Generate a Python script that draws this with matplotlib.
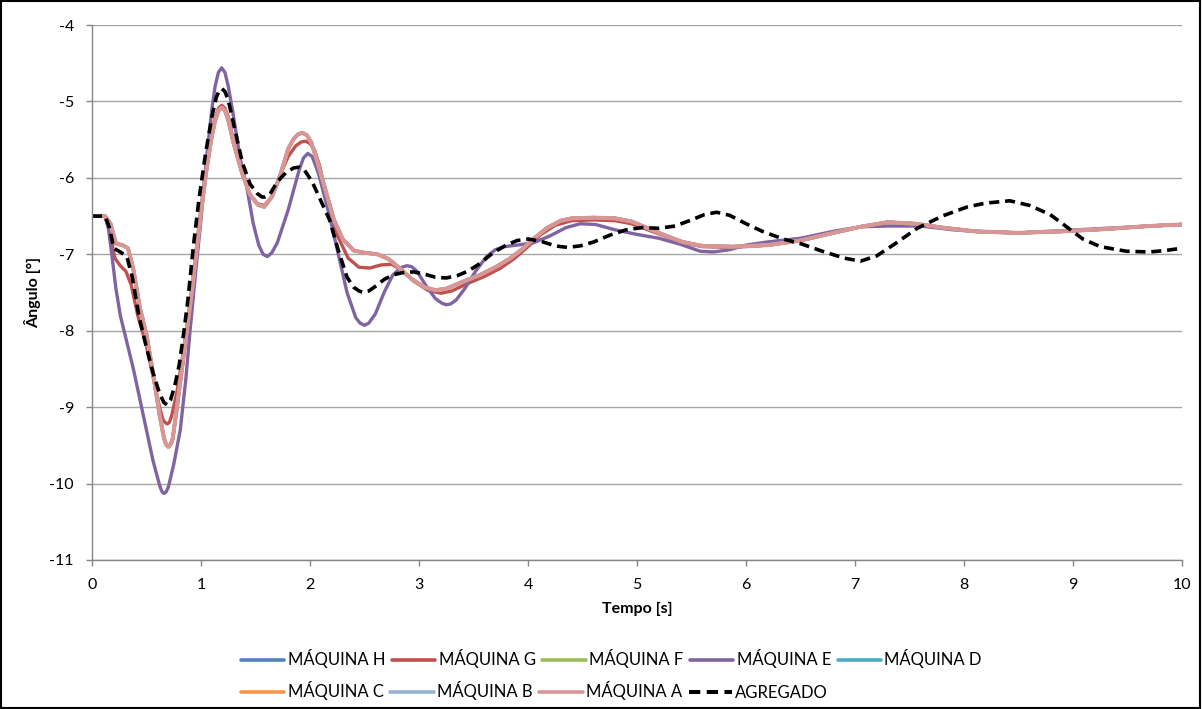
import matplotlib
matplotlib.use("Agg")
import matplotlib.pyplot as plt
from matplotlib.patches import Rectangle

plt.rcParams['font.family'] = ['Lato', 'DejaVu Sans']
plt.rcParams['axes.unicode_minus'] = False

# machine A (the other machines H, F, D, C, B follow the same trajectory)
t_a = [0.0, 0.12, 0.17, 0.22, 0.28, 0.33, 0.38, 0.44, 0.5, 0.56, 0.62, 0.66, 0.68, 0.70, 0.72,
       0.74, 0.78, 0.83, 0.87, 0.92, 0.96, 1.0, 1.05, 1.1, 1.13, 1.16, 1.19, 1.22, 1.25, 1.3,
       1.38, 1.45, 1.52, 1.58, 1.65, 1.72, 1.8, 1.85, 1.89, 1.93, 1.97, 2.01, 2.06, 2.14, 2.22,
       2.3, 2.4, 2.5, 2.62, 2.72, 2.82, 2.93, 3.05, 3.15, 3.25, 3.4, 3.56, 3.7, 3.83, 3.95,
       4.05, 4.17, 4.3, 4.4, 4.6, 4.8, 4.95, 5.1, 5.27, 5.42, 5.6, 5.88, 6.2, 6.5, 6.8,
       7.05, 7.3, 7.55, 7.8, 8.1, 8.5, 8.9, 9.3, 9.7, 10.0]
ang_a = [-6.5, -6.5, -6.6, -6.86, -6.88, -6.92, -7.2, -7.7, -8.05, -8.55, -9.1, -9.4, -9.49, -9.52, -9.49,
         -9.42, -9.0, -8.45, -8.0, -7.45, -6.95, -6.45, -5.9, -5.45, -5.25, -5.12, -5.08, -5.12, -5.24, -5.55,
         -5.95, -6.22, -6.35, -6.38, -6.25, -6.0, -5.62, -5.49, -5.43, -5.41, -5.44, -5.53, -5.75, -6.15, -6.55,
         -6.8, -6.95, -6.98, -7.0, -7.06, -7.18, -7.32, -7.43, -7.47, -7.45, -7.36, -7.27, -7.17, -7.06, -6.93,
         -6.8, -6.66, -6.56, -6.53, -6.52, -6.53, -6.57, -6.66, -6.76, -6.84, -6.89, -6.9, -6.88, -6.82, -6.72,
         -6.64, -6.58, -6.6, -6.65, -6.7, -6.72, -6.7, -6.67, -6.63, -6.61]

# machine G
t_g = [0.0, 0.12, 0.17, 0.21, 0.26, 0.31, 0.36, 0.42, 0.5, 0.56, 0.62, 0.65, 0.67, 0.69, 0.71,
       0.73, 0.78, 0.83, 0.87, 0.92, 0.96, 1.0, 1.05, 1.1, 1.13, 1.16, 1.19, 1.22, 1.25, 1.3,
       1.38, 1.45, 1.52, 1.58, 1.65, 1.72, 1.8, 1.87, 1.92, 1.96, 2.0, 2.04, 2.09, 2.16, 2.25,
       2.35, 2.45, 2.55, 2.65, 2.75, 2.85, 2.95, 3.08, 3.2, 3.3, 3.45, 3.6, 3.75, 3.88, 4.0,
       4.12, 4.25, 4.4, 4.6, 4.8, 4.95, 5.1, 5.27, 5.42, 5.6, 5.88, 6.2, 6.5, 6.8, 7.05,
       7.3, 7.55, 7.8, 8.1, 8.5, 8.9, 9.3, 9.7, 10.0]
ang_g = [-6.5, -6.5, -6.75, -7.05, -7.15, -7.22, -7.4, -7.8, -8.2, -8.6, -9.0, -9.16, -9.2, -9.22, -9.2,
         -9.12, -8.8, -8.35, -7.95, -7.4, -6.9, -6.4, -5.85, -5.4, -5.21, -5.09, -5.05, -5.09, -5.2, -5.52,
         -5.95, -6.22, -6.34, -6.36, -6.25, -5.98, -5.72, -5.58, -5.53, -5.52, -5.55, -5.63, -5.85, -6.3, -6.75,
         -7.05, -7.17, -7.18, -7.14, -7.13, -7.22, -7.35, -7.47, -7.51, -7.48, -7.38, -7.29, -7.18, -7.05, -6.9,
         -6.74, -6.62, -6.56, -6.55, -6.56, -6.6, -6.68, -6.77, -6.85, -6.9, -6.91, -6.88, -6.82, -6.72, -6.64,
         -6.58, -6.6, -6.65, -6.7, -6.72, -6.7, -6.67, -6.63, -6.61]

# machine E
t_e = [0.0, 0.12, 0.15, 0.18, 0.22, 0.26, 0.32, 0.38, 0.44, 0.5, 0.56, 0.62, 0.64, 0.66, 0.68,
       0.70, 0.75, 0.81, 0.86, 0.9, 0.95, 1.0, 1.05, 1.1, 1.13, 1.16, 1.19, 1.22, 1.25, 1.29,
       1.36, 1.42, 1.48, 1.53, 1.57, 1.61, 1.65, 1.7, 1.8, 1.9, 1.94, 1.98, 2.02, 2.08, 2.18,
       2.26, 2.34, 2.42, 2.46, 2.5, 2.54, 2.6, 2.68, 2.76, 2.84, 2.89, 2.93, 2.98, 3.06, 3.15,
       3.21, 3.25, 3.29, 3.34, 3.42, 3.52, 3.62, 3.7, 3.78, 3.9, 4.05, 4.2, 4.35, 4.48, 4.62,
       4.8, 5.0, 5.2, 5.4, 5.58, 5.7, 5.85, 6.0, 6.19, 6.5, 6.8, 7.05, 7.3, 7.6, 7.9,
       8.2, 8.5, 8.9, 9.3, 9.7, 10.0]
ang_e = [-6.5, -6.5, -6.65, -6.98, -7.45, -7.8, -8.15, -8.5, -8.9, -9.3, -9.7, -10.02, -10.1, -10.13, -10.11,
         -10.05, -9.75, -9.3, -8.65, -8.0, -7.25, -6.55, -5.75, -5.1, -4.8, -4.62, -4.56, -4.62, -4.8, -5.12,
         -5.75, -6.12, -6.6, -6.88, -7.0, -7.03, -6.98, -6.85, -6.42, -5.9, -5.74, -5.68, -5.72, -5.95, -6.5,
         -7.0, -7.5, -7.83, -7.9, -7.93, -7.9, -7.78, -7.5, -7.27, -7.17, -7.15, -7.16, -7.22, -7.4, -7.58,
         -7.64, -7.66, -7.65, -7.6, -7.45, -7.22, -7.03, -6.94, -6.9, -6.88, -6.85, -6.76, -6.65, -6.6, -6.61,
         -6.68, -6.74, -6.79, -6.87, -6.96, -6.97, -6.94, -6.88, -6.84, -6.79, -6.7, -6.64, -6.63, -6.63, -6.68,
         -6.71, -6.72, -6.69, -6.66, -6.63, -6.61]

# aggregated model
t_agg = [0.0, 0.12, 0.16, 0.2, 0.26, 0.32, 0.37, 0.43, 0.5, 0.56, 0.62, 0.66, 0.69, 0.72,
         0.76, 0.8, 0.84, 0.88, 0.93, 0.98, 1.04, 1.1, 1.14, 1.16, 1.19, 1.22, 1.25, 1.3,
         1.38, 1.45, 1.52, 1.56, 1.59, 1.63, 1.7, 1.78, 1.85, 1.9, 1.95, 2.02, 2.1, 2.18,
         2.26, 2.34, 2.4, 2.45, 2.49, 2.54, 2.6, 2.68, 2.76, 2.85, 2.95, 3.05, 3.15, 3.25,
         3.35, 3.45, 3.56, 3.68, 3.8, 3.9, 4.0, 4.12, 4.25, 4.36, 4.48, 4.6, 4.75, 4.9,
         5.05, 5.2, 5.35, 5.5, 5.62, 5.73, 5.85, 6.0, 6.15, 6.34, 6.5, 6.7, 6.9, 7.05,
         7.2, 7.38, 7.57, 7.8, 8.03, 8.2, 8.42, 8.6, 8.79, 8.95, 9.09, 9.25, 9.49, 9.7,
         9.85, 10.0]
ang_agg = [-6.5, -6.5, -6.65, -6.92, -6.97, -7.03, -7.3, -7.8, -8.22, -8.55, -8.82, -8.94, -8.97, -8.91,
           -8.72, -8.45, -8.05, -7.6, -6.9, -6.3, -5.7, -5.2, -4.95, -4.88, -4.83, -4.87, -4.98, -5.3,
           -5.8, -6.08, -6.21, -6.25, -6.25, -6.22, -6.05, -5.93, -5.87, -5.86, -5.9, -6.05, -6.3, -6.55,
           -6.95, -7.3, -7.43, -7.48, -7.5, -7.48, -7.42, -7.33, -7.27, -7.24, -7.23, -7.26, -7.3, -7.31,
           -7.28, -7.22, -7.12, -6.98, -6.88, -6.82, -6.8, -6.83, -6.89, -6.91, -6.89, -6.84, -6.75, -6.68,
           -6.65, -6.66, -6.63, -6.55, -6.48, -6.45, -6.49, -6.6, -6.7, -6.8, -6.86, -6.96, -7.05, -7.09,
           -7.02, -6.85, -6.66, -6.5, -6.38, -6.33, -6.3, -6.36, -6.48, -6.65, -6.8, -6.9, -6.96, -6.97,
           -6.95, -6.92]

series = [
    ("MÁQUINA H", t_a, ang_a, "#4F81BD"),
    ("MÁQUINA G", t_g, ang_g, "#C0504D"),
    ("MÁQUINA F", t_a, ang_a, "#9BBB59"),
    ("MÁQUINA E", t_e, ang_e, "#8064A2"),
    ("MÁQUINA D", t_a, ang_a, "#4BACC6"),
    ("MÁQUINA C", t_a, ang_a, "#F79646"),
    ("MÁQUINA B", t_a, ang_a, "#95B3D7"),
    ("MÁQUINA A", t_a, ang_a, "#D99694"),
]

fig = plt.figure(figsize=(12.02, 7.09), dpi=100)
ax = fig.add_axes([0.0765, 0.2102, 0.9069, 0.7545])

handles = {}
for name, t, v, c in series:
    lw = 2.9 if name == "MÁQUINA A" else 2.4
    handles[name], = ax.plot(t, v, color=c, lw=lw, solid_capstyle='round',
                             solid_joinstyle='round', label=name)
handles["AGREGADO"], = ax.plot(t_agg, ang_agg, color='black', lw=2.6,
                               linestyle=(0, (2.8, 1.6)), label="AGREGADO")

ax.set_xlim(0, 10)
ax.set_ylim(-11, -4)
ax.set_xticks(range(0, 11))
ax.set_yticks(range(-11, -3))
ax.grid(axis='y', color='#A6A6A6', lw=1.0)
ax.set_axisbelow(True)
for s in ['top', 'right']:
    ax.spines[s].set_visible(False)
for s in ['left', 'bottom']:
    ax.spines[s].set_color('#868686')
    ax.spines[s].set_linewidth(1.0)
ax.tick_params(axis='both', direction='out', length=4, width=1.0, color='#868686',
               labelsize=11.5, labelcolor='black')
ax.tick_params(axis='y', pad=9)
ax.tick_params(axis='x', pad=9)

ax.set_xlabel("Tempo [s]", fontsize=11.5, fontweight='bold', labelpad=7)
ax.set_ylabel("Ângulo [°]", fontsize=11.5, fontweight='bold', labelpad=6)

row1 = ["MÁQUINA H", "MÁQUINA G", "MÁQUINA F", "MÁQUINA E", "MÁQUINA D"]
row2 = ["MÁQUINA C", "MÁQUINA B", "MÁQUINA A", "AGREGADO"]
common = dict(loc='center left', frameon=False, fontsize=12, handlelength=2.6,
              handletextpad=0.2, columnspacing=0.4, borderpad=0, borderaxespad=0)
leg1 = fig.legend([handles[n] for n in row1], row1, ncol=5,
                  bbox_to_anchor=(0.2005, 1 - 659 / 709), **common)
leg2 = fig.legend([handles[n] for n in row2], row2, ncol=4,
                  bbox_to_anchor=(0.2005, 1 - 691 / 709), **common)
for leg in (leg1, leg2):
    for h in leg.legend_handles:
        h.set_linewidth(2.9 if h.get_linestyle() == '--' else 2.6)

fig.patches.append(Rectangle((0.001, 0.002), 0.997, 0.996, transform=fig.transFigure,
                             fill=False, edgecolor='black', lw=1.5))

fig.savefig("out.png", dpi=100)
